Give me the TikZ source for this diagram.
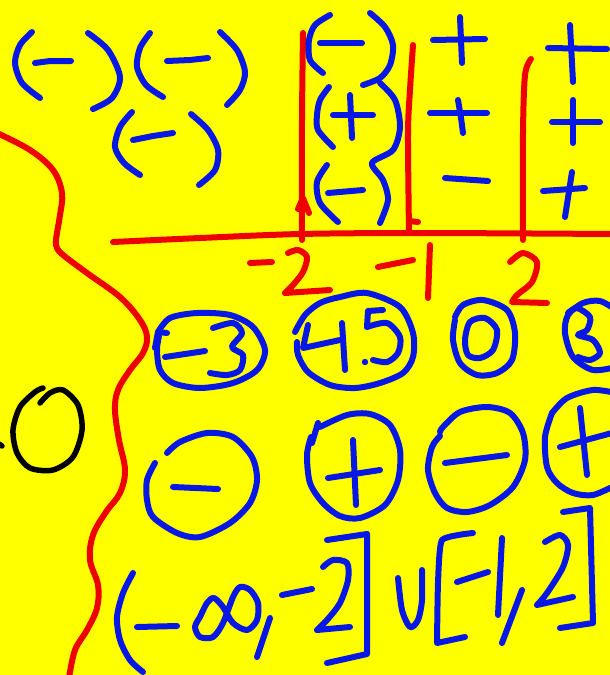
\documentclass[tikz,border=0pt]{standalone}
\definecolor{bgyellow}{RGB}{255,255,0}
\definecolor{penblue}{RGB}{8,24,228}
\definecolor{penred}{RGB}{238,0,0}
\tikzset{
  pen/.style={line width=6pt, line cap=round, line join=round},
  bl/.style={pen, draw=penblue},
  rd/.style={pen, draw=penred},
  bk/.style={pen, draw=black, line width=5.5pt}
}
\begin{document}
\begin{tikzpicture}[x=1pt,y=-1pt]
\fill[bgyellow] (0,0) rectangle (610,675);
\useasboundingbox (0,0) rectangle (610,675);
% ---------- red boundary curve on the left
\draw[rd] plot[smooth,tension=0.6] coordinates {(-3,133) (30,150) (53,170) (62,193) (60,215) (57,233) (56,245) (62,254) (87,273) (120,297) (140,320) (147,337) (143,353) (130,370) (118,390) (115,410) (119,440) (125,470) (120,493) (106,512) (93,535) (90,560) (98,585) (97,608) (87,630) (75,650) (69,678)};
% ---------- number line
\draw[rd] plot[smooth] coordinates {(113,242) (200,238) (300,234) (420,233) (612,234)};
\draw[rd] plot[smooth] coordinates {(303,33) (302,120) (302,240)};
\draw[rd] (298,209) -- (303,198) -- (309,213);
\draw[rd] plot[smooth] coordinates {(413,45) (410,90) (408,133) (409,232)};
\draw[rd] (409,221) -- (418,222);
\draw[rd] plot[smooth] coordinates {(531,59) (525,75) (523,133) (523,240)};
% labels -2 -1 2
\draw[rd] (250,263) -- (272,262);
\draw[rd] plot[smooth] coordinates {(288,253) (298,250) (307,257) (303,272) (293,285) (285,293)} -- (330,290);
\draw[rd] (378,267) -- (413,260);
\draw[rd] (430,245) -- (428,298);
\draw[rd] plot[smooth] coordinates {(510,262) (523,253) (537,262) (532,282) (517,295) (512,302)} -- (547,303);
% ---------- top-left (-)(-)(-)
\draw[bl] plot[smooth] coordinates {(32,32) (20,45) (15,63) (22,83) (40,98)};
\draw[bl] (35,63) -- (50,61) -- (71,61);
\draw[bl] plot[smooth] coordinates {(88,33) (108,50) (120,77) (112,98) (93,109)};
\draw[bl] plot[smooth] coordinates {(150,33) (140,48) (137,67) (146,85) (163,97)};
\draw[bl] (167,61) -- (190,60) -- (208,58);
\draw[bl] plot[smooth] coordinates {(220,32) (237,50) (245,72) (240,90) (227,105)};
\draw[bl] plot[smooth] coordinates {(132,112) (120,127) (115,147) (124,163) (140,175)};
\draw[bl] (133,140) -- (153,136) -- (173,133);
\draw[bl] plot[smooth] coordinates {(191,114) (208,130) (218,150) (215,170) (199,185)};
% ---------- column between -2 and -1
\draw[bl] plot[smooth] coordinates {(330,15) (315,25) (309,40) (310,60) (323,73)};
\draw[bl] (320,43) -- (362,43);
\draw[bl] plot[smooth] coordinates {(370,13) (385,27) (393,45) (390,65) (380,78) (363,85)};
\draw[bl] plot[smooth] coordinates {(329,87) (320,100) (317,115) (318,130) (333,147)};
\draw[bl] (333,115) -- (373,115);
\draw[bl] (350,95) -- (352,138);
\draw[bl] plot[smooth] coordinates {(380,83) (395,100) (400,127) (393,150) (372,163) (383,180) (388,200) (380,223)};
\draw[bl] plot[smooth] coordinates {(327,165) (317,182) (320,203) (338,222)};
\draw[bl] (328,193) -- (363,190);
% ---------- column between -1 and 2
\draw[bl] (433,40) -- (485,39);
\draw[bl] (460,17) -- (462,63);
\draw[bl] (430,113) -- (487,113);
\draw[bl] plot[smooth] coordinates {(458,100) (461,118) (463,133)};
\draw[bl] (445,178) -- (488,181);
% ---------- column right of 2
\draw[bl] (548,48) -- (607,49);
\draw[bl] (570,25) -- (573,82);
\draw[bl] (552,122) -- (600,122);
\draw[bl] (573,100) -- (573,143);
\draw[bl] (543,191) -- (585,188);
\draw[bl] (572,172) -- (565,217);
% ---------- black 0 at left
\draw[bk] plot[smooth] coordinates {(40,403) (50,393) (63,390) (78,405) (82,430) (73,457) (53,470) (30,468) (17,453) (13,430) (20,407) (35,392) (43,388)};
\draw[bk] (-1,444) -- (2,446);
% ---------- row of test points
\draw[bl] plot[smooth] coordinates {(158,332) (170,318) (197,313) (230,315) (253,327) (265,350) (257,370) (233,383) (200,388) (173,383) (160,370) (157,350) (159,336)};
\draw[bl] (155,348) -- (158,332) -- (167,333);
\draw[bl] (165,357) -- (205,351);
\draw[bl] plot[smooth] coordinates {(213,328) (233,323) (242,333) (232,347) (243,355) (240,370) (227,375) (210,373)};
%
\draw[bl] plot[smooth] coordinates {(295,332) (305,315) (320,303) (340,297) (367,293) (400,307) (413,333) (413,357) (403,373) (380,383) (355,388) (330,385) (308,372) (298,355) (297,342)};
\draw[bl] (308,325) -- (303,348) -- (340,340);
\draw[bl] (342,323) -- (345,370);
\fill[penblue] (365,362) circle (3.2pt);
\draw[bl] (383,310) -- (368,311) -- (367,327);
\draw[bl] plot[smooth] coordinates {(367,327) (387,323) (400,337) (398,353) (387,362) (373,360)};
%
\draw[bl] plot[smooth] coordinates {(455,317) (463,305) (483,300) (507,310) (515,333) (512,360) (497,373) (477,375) (460,363) (453,340) (455,320)};
\draw[bl] plot[smooth cycle] coordinates {(470,322) (485,318) (497,330) (493,350) (480,358) (468,355) (465,340)};
%
\draw[bl] plot[smooth] coordinates {(616,310) (600,301) (583,303) (568,315) (565,333) (573,357) (593,370) (616,367)};
\draw[bl] plot[smooth] coordinates {(568,313) (577,308) (590,317) (587,330) (578,335) (593,340) (600,353) (590,360) (578,357)};
% ---------- row of signs
\draw[bl] plot[smooth] coordinates {(167,453) (180,442) (207,433) (233,437) (252,457) (257,480) (250,503) (230,523) (200,537) (177,533) (153,517) (147,500) (147,480) (155,463)};
\draw[bl] (173,487) -- (218,489);
%
\draw[bl] (318,423) -- (312,443);
\draw[bl] plot[smooth] coordinates {(320,427) (347,415) (370,414) (390,425) (400,450) (398,480) (385,505) (360,518) (340,516) (323,503) (310,483) (307,455) (311,437)};
\draw[bl] (328,478) -- (380,470);
\draw[bl] (353,440) -- (356,505);
%
\draw[bl] plot[smooth] coordinates {(440,432) (443,427) (460,412) (487,407) (510,413) (523,433) (525,460) (513,487) (490,505) (467,512) (447,508) (435,493) (428,470) (432,447) (440,436)};
\draw[bl] (445,463) -- (507,455);
%
\draw[bl] plot[smooth] coordinates {(552,413) (567,398) (593,390) (616,393)};
\draw[bl] plot[smooth] coordinates {(552,413) (545,437) (547,467) (557,483) (573,493) (593,495) (616,485)};
\draw[bl] (560,447) -- (612,433);
\draw[bl] (580,408) -- (587,475);
% ---------- answer (-oo,-2] U [-1,2]
\draw[bl] plot[smooth] coordinates {(133,573) (123,593) (117,617) (120,640) (130,660) (143,672)};
\draw[bl] (137,627) -- (177,626);
\draw[bl] plot[smooth] coordinates {(200,617) (207,603) (214,598) (223,607) (233,623) (247,630) (257,620) (258,603) (250,590) (240,587) (233,597) (223,623) (213,637) (200,637) (195,627) (200,617)};
\draw[bl] (270,618) -- (257,657);
\draw[bl] (282,595) -- (312,589);
\draw[bl] plot[smooth] coordinates {(323,567) (333,560) (347,563) (348,580) (340,603) (327,620) (317,630)} -- (350,627);
\draw[bl] (327,540) -- (367,534);
\draw[bl] (367,534) -- (367,654) -- (327,663);
\draw[bl] plot[smooth] coordinates {(398,578) (402,610) (410,627) (418,620) (422,600) (422,570)};
\draw[bl] plot[smooth,tension=0.3] coordinates {(473,533) (442,540) (438,583) (437,643)} -- (465,637);
\draw[bl] (457,582) -- (488,572);
\draw[bl] (502,538) -- (498,615);
\draw[bl] (522,590) -- (502,643);
\draw[bl] plot[smooth] coordinates {(545,542) (560,535) (568,545) (563,567) (547,593) (537,605)} -- (573,597);
\draw[bl] (563,512) -- (590,508) -- (593,623) -- (560,628);
\end{tikzpicture}
\end{document}
